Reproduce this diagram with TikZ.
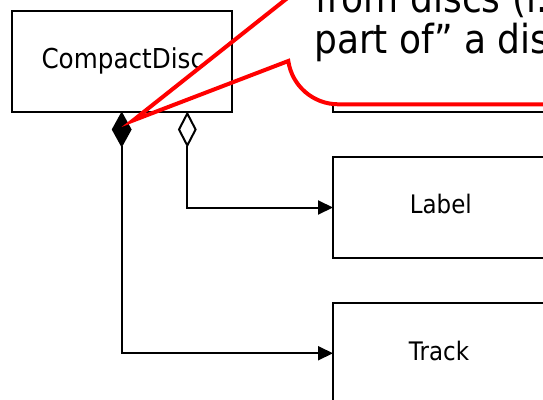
\documentclass[tikz,border=0pt]{standalone}
\usepackage{fontspec}
\setmainfont{DejaVu Sans}[FakeStretch=0.9]
\usetikzlibrary{arrows.meta}
\tikzset{
  umlbox/.style={draw=black, line width=2pt, fill=white, inner sep=0pt, outer sep=0pt},
  boxtext/.style={anchor=base, inner sep=0pt, font=\fontsize{25.5}{30}\selectfont},
  conn/.style={draw=black, line width=2pt, -{Triangle[length=15pt,width=14pt]}},
  diam/.style={draw=black, line width=2pt},
  calloutline/.style={draw=red, line width=4pt, miter limit=12},
  callouttext/.style={anchor=base west, inner sep=0pt, font=\fontsize{40}{44}\selectfont},
}
\begin{document}
\begin{tikzpicture}[x=1pt,y=-1pt]
\useasboundingbox (0,0) rectangle (543,399);
\clip (0,0) rectangle (543,399);
% box hidden behind the callout
\node[umlbox, minimum width=217pt, minimum height=101.5pt] (hidden) at (441.5,61.25) {};
% callout body
\fill[white] (288,-60) -- (288,54) arc[start angle=180, end angle=90, radius=50.5] -- (600,104.5) -- (600,-60) -- cycle;
% class boxes
\node[umlbox, minimum width=219.5pt, minimum height=101.5pt] (cd) at (121.75,61.25) {};
\node[umlbox, minimum width=214pt, minimum height=101pt] (label) at (440,207.5) {};
\node[umlbox, minimum width=214pt, minimum height=101.5pt] (track) at (440,353.25) {};
\node[boxtext, font=\fontsize{27.4}{32}\selectfont] (cdtext) at (122.8,68.3) {CompactDisc};
\node[boxtext] (labeltext) at (440.8,213.3) {Label};
\node[boxtext] (tracktext) at (439,360) {Track};
% diamonds
\coordinate (fdb) at (121.7,145.5);
\coordinate (odb) at (187.3,145.5);
\draw[diam, fill=black] (fdb) -- ++(8.8,-16) -- ++(-8.8,-16) -- ++(-8.8,16) -- cycle;
\draw[diam, fill=white] (odb) -- ++(8.3,-16) -- ++(-8.3,-16) -- ++(-8.3,16) -- cycle;
% connectors
\draw[conn] (fdb) |- (track.west);
\draw[conn] (odb) |- (label.west);
% callout text
\node[callouttext] (note1) at (315,12.5) {from discs (i.e.};
\node[callouttext] (note2) at (314,53.3) {part of” a disc};
% callout outline with pointer
\coordinate (tip) at (133,120.5);
\draw[calloutline] (288,-60) -- (288,-2.4) -- (tip) -- (288.3,61) arc[start angle=171.8, end angle=90, radius=50.5] -- (600,104.5);
\end{tikzpicture}
\end{document}
